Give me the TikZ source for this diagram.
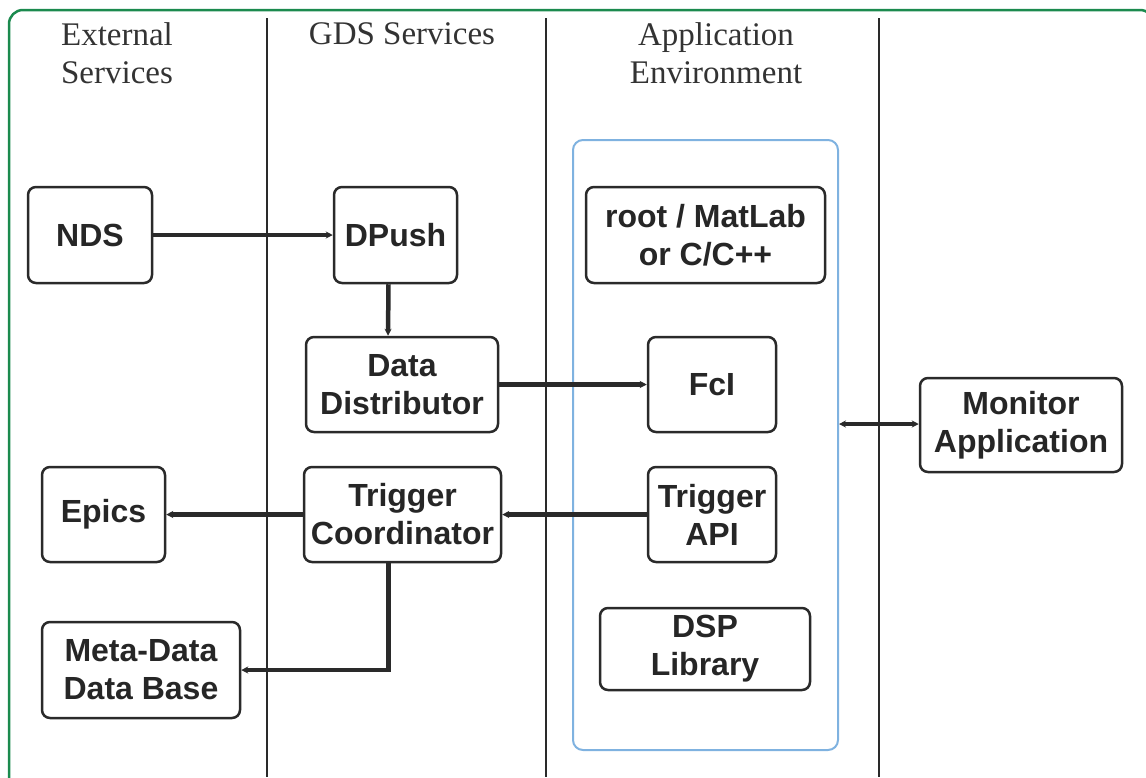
\documentclass[tikz,border=0pt]{standalone}
\usepackage{fontspec}
\setmainfont{Liberation Serif}
\newfontfamily\boxfont{Liberation Sans}
\usetikzlibrary{arrows.meta,calc}
\definecolor{framegreen}{HTML}{1B8A4E}
\definecolor{envblue}{HTML}{7FB2E0}
\definecolor{linegray}{HTML}{2A2A2A}
\definecolor{headgray}{HTML}{333333}
\tikzset{
  box/.style={draw=linegray, line width=2.5pt, rounded corners=8pt, fill=white,
    font=\boxfont\bfseries\fontsize{32}{38}\selectfont, text=black!85, align=center, inner sep=0pt},
  head/.style={font=\fontsize{33}{38}\selectfont, text=headgray, align=center, inner sep=0pt, anchor=north},
  conn/.style={draw=linegray, line width=4.5pt, -{Stealth[length=7pt,width=7pt]}},
  sep/.style={draw=linegray, line width=2pt},
}
\begin{document}
\begin{tikzpicture}[x=1pt,y=-1pt]
\useasboundingbox (0,0) rectangle (1146,777);
\begin{scope}
\clip (0,0) rectangle (1146,777);
\draw[framegreen, line width=2.5pt, rounded corners=14pt] (9,10) rectangle (1154,790);
\end{scope}
% separators
\coordinate (s1t) at (267,18); \coordinate (s1b) at (267,777);
\coordinate (s2t) at (546,18); \coordinate (s2b) at (546,777);
\coordinate (s3t) at (879,18); \coordinate (s3b) at (879,777);
\draw[sep] (s1t) -- (s1b);
\draw[sep] (s2t) -- (s2b);
\draw[sep] (s3t) -- (s3b);
% headers
\node[head] (h1) at (117,22) {External\\Services};
\node[head] (h2) at (402,22) {GDS Services};
\node[head] (h3) at (716,22) {Application\\Environment};
% environment box
\node[draw=envblue, line width=2pt, rounded corners=10pt, minimum width=265pt, minimum height=610pt, inner sep=0pt] (env) at (705.5,445) {};
% boxes
\node[box, minimum width=124pt, minimum height=96pt] (nds) at (90,235) {NDS};
\node[box, minimum width=123pt, minimum height=96pt] (dpush) at (395.5,235) {DPush};
\node[box, minimum width=192pt, minimum height=95pt] (dd) at (402,384.5) {Data\\Distributor};
\node[box, minimum width=239pt, minimum height=96pt] (root) at (705.5,235) {root / MatLab\\or C/C++};
\node[box, minimum width=128pt, minimum height=95pt] (fcl) at (712,384.5) {FcI};
\node[box, minimum width=202pt, minimum height=94pt] (mon) at (1021,425) {Monitor\\Application};
\node[box, minimum width=123pt, minimum height=95pt] (epics) at (103.5,514.5) {Epics};
\node[box, minimum width=197pt, minimum height=95pt] (tc) at (402.5,514.5) {Trigger\\Coordinator};
\node[box, minimum width=128pt, minimum height=95pt] (tapi) at (712,514.5) {Trigger\\API};
\node[box, minimum width=198pt, minimum height=96pt] (meta) at (141,670) {Meta-Data\\Data Base};
\node[box, minimum width=210pt, minimum height=82pt] (dsp) at (705,649) {DSP\\Library};
% connectors
\draw[conn] (nds) -- (dpush);
\draw[conn] ([xshift=-7pt]dpush.south) -- ([xshift=-14pt]dd.north);
\draw[conn] (dd) -- (fcl);
\draw[conn] (tapi) -- (tc);
\draw[conn] (tc) -- (epics);
\draw[conn, rounded corners=0pt] ([xshift=-14pt]tc.south) |- (meta.east);
\draw[conn, {Stealth[length=7pt,width=7pt]}-{Stealth[length=7pt,width=7pt]}] ([yshift=1pt]mon.west -| env.east) -- ([yshift=1pt]mon.west);
\end{tikzpicture}
\end{document}
